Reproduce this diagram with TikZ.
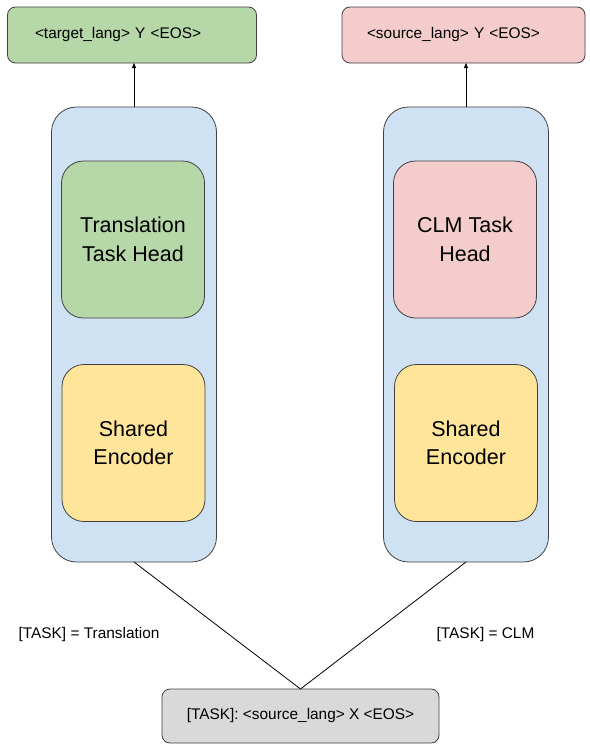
\documentclass[tikz,border=0pt]{standalone}
\usepackage{fontspec}
\setmainfont{Liberation Sans}
\usetikzlibrary{arrows.meta}
\definecolor{outGreen}{HTML}{B6D7A8}
\definecolor{outPink}{HTML}{F4CCCC}
\definecolor{modelBlue}{HTML}{CFE2F3}
\definecolor{encYellow}{HTML}{FFE599}
\definecolor{inGray}{HTML}{D9D9D9}
\newcommand{\smallText}[0]{\fontsize{15.4}{18}\selectfont}
\newcommand{\bigText}[0]{\fontsize{21.5}{28.5}\selectfont}

\begin{document}
\begin{tikzpicture}[x=1pt, y=-1pt, line width=0.8pt]
  \tikzset{
    every node/.style={draw=black!75, inner sep=0pt, outer sep=0pt},
    tokbox/.style={rounded corners=8pt, minimum height=56pt, align=left, font=\smallText},
    modelbox/.style={fill=modelBlue, rounded corners=25pt, minimum width=165pt, minimum height=455pt},
    partbox/.style={rounded corners=22pt, minimum width=143pt, minimum height=157pt, align=center, font=\bigText},
    tasklabel/.style={draw=none, font=\smallText},
    arr/.style={-{Triangle[length=5pt,width=4pt]}}
  }
  \useasboundingbox (0,0) rectangle (589,744);
  % outputs
  \node[tokbox, fill=outGreen, text width=194pt, inner xsep=27.5pt] (tgt) at (132,35) {<target\_lang> Y <EOS>};
  \node[tokbox, fill=outPink, text width=193pt, inner xsep=25pt] (src) at (463.5,35) {<source\_lang> Y <EOS>};
  % models
  \node[modelbox] (modelL) at (134,334.5) {};
  \node[modelbox] (modelR) at (466,334.5) {};
  \node[partbox, fill=outGreen] (headL) at (133,239.5) {Translation\\Task Head};
  \node[partbox, fill=encYellow] (encL) at (133.5,443) {Shared\\Encoder};
  \node[partbox, fill=outPink] (headR) at (465,239.5) {CLM Task\\Head};
  \node[partbox, fill=encYellow] (encR) at (466,443) {Shared\\Encoder};
  % input
  \node[rounded corners=8pt, fill=inGray, minimum width=277pt, minimum height=54pt, font=\smallText] (inp) at (300.5,716) {[TASK]: <source\_lang> X <EOS>};
  \node[tasklabel] (taskL) at (89,635) {[TASK] = Translation};
  \node[tasklabel] (taskR) at (485.5,635) {[TASK] = CLM};
  % connectors
  \draw[arr] (modelL.north) -- (tgt.south -| modelL.north);
  \draw[arr] (modelR.north) -- (src.south -| modelR.north);
  \draw (modelL.south) -- (inp.north);
  \draw (modelR.south) -- (inp.north);
\end{tikzpicture}
\end{document}
